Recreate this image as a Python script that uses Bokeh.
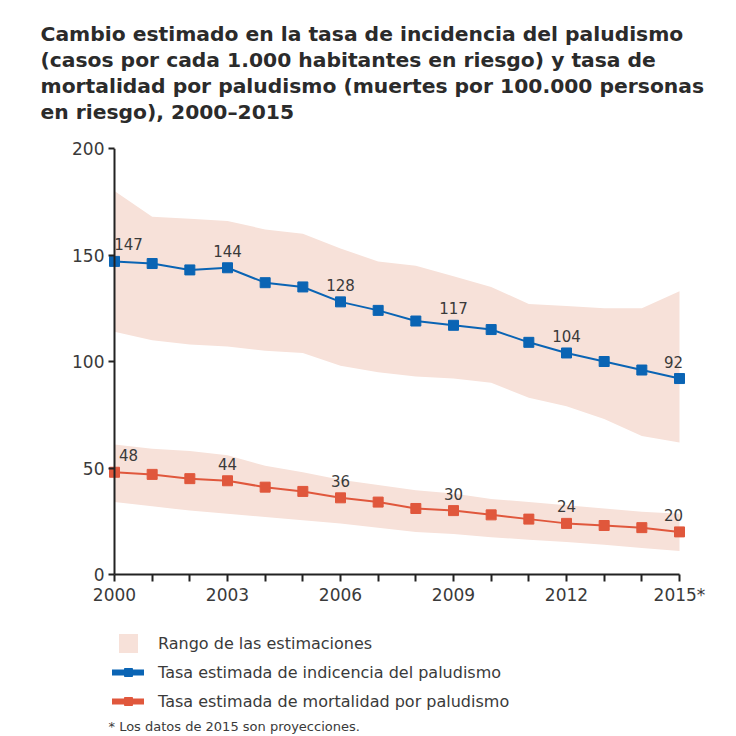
from bokeh.plotting import figure
from bokeh.layouts import column
from bokeh.models import (ColumnDataSource, FixedTicker, Legend, LegendItem,
                          Label, Range1d, Span)
from bokeh.embed import file_html
from bokeh.resources import INLINE
from bokeh.core.properties import value

# ---- data ----
years = list(range(2000, 2016))
incidence = [147, 146, 143, 144, 137, 135, 128, 124, 119, 117, 115, 109, 104, 100, 96, 92]
incidence_low = [114, 110, 108, 107, 105, 104, 98, 95, 93, 92, 90, 83, 79, 73, 65, 62]
incidence_high = [180, 168, 167, 166, 162, 160, 153, 147, 145, 140, 135, 127, 126, 125, 125, 133]
mortality = [48, 47, 45, 44, 41, 39, 36, 34, 31, 30, 28, 26, 24, 23, 22, 20]
mortality_low = [34, 32, 30, 28.5, 27, 25.5, 24, 22, 20, 19, 17.5, 16.3, 15.2, 14, 12.5, 11]
mortality_high = [61, 59, 58, 56, 51, 48, 44.5, 42, 39.5, 38, 35.5, 34, 32.5, 31, 29.5, 28.5]
labeled_years = [2000, 2003, 2006, 2009, 2012, 2015]
x_tick_labels = {2000: "2000", 2003: "2003", 2006: "2006", 2009: "2009",
                 2012: "2012", 2015: "2015*"}
y_ticks = [0, 50, 100, 150, 200]

title_lines = [
    "Cambio estimado en la tasa de incidencia del paludismo",
    "(casos por cada 1.000 habitantes en riesgo) y tasa de",
    "mortalidad por paludismo (muertes por 100.000 personas",
    "en riesgo), 2000–2015",
]
legend_labels = ["Rango de las estimaciones",
                 "Tasa estimada de indicencia del paludismo",
                 "Tasa estimada de mortalidad por paludismo"]
footnote = "* Los datos de 2015 son proyecciones."

# ---- styles / layout ----
BLUE = "#0a64b4"
RED = "#e0573c"
BAND = "#f7e1d9"
TXT = "#3a3a3a"
AXIS = "#222222"
FONT = "DejaVu Sans"
W = 728
TITLE_H, MAIN_H, LEG_H = 138, 470, 126
FRAME_L, FRAME_R, FRAME_T, FRAME_B = 108, 43, 10, 34
TICK = 6
frame_w = W - FRAME_L - FRAME_R
px_per_year = (frame_w - 2 * TICK) / (years[-1] - years[0])
pad = TICK / px_per_year


def blank_fig(h):
    f = figure(width=W, height=h, output_backend="svg", toolbar_location=None,
               x_range=Range1d(0, W), y_range=Range1d(h, 0),
               x_axis_type=None, y_axis_type=None, min_border=0,
               frame_align=False)
    f.outline_line_color = None
    f.grid.visible = False
    return f


# ---- title ----
tf = blank_fig(TITLE_H)
for i, line in enumerate(title_lines):
    tf.add_layout(Label(x=40, y=33 + 26.3 * i, text=line, text_font=FONT,
                        text_font_size="20.3px", text_font_style="bold",
                        text_color="#2b2b2b", text_baseline="middle",
                        text_align="left"))

# ---- main chart ----
src = ColumnDataSource(dict(year=years, inc=incidence, inc_lo=incidence_low,
                            inc_hi=incidence_high, mor=mortality,
                            mor_lo=mortality_low, mor_hi=mortality_high))

p = figure(width=W, height=MAIN_H, output_backend="svg", toolbar_location=None,
           x_range=Range1d(years[0] - pad, years[-1] + pad),
           y_range=Range1d(y_ticks[0], y_ticks[-1]),
           min_border_left=FRAME_L, min_border_right=FRAME_R,
           min_border_top=FRAME_T, min_border_bottom=FRAME_B,
           frame_align=False)
p.outline_line_color = None
p.xgrid.visible = False
p.ygrid.visible = False

p.varea(x="year", y1="inc_lo", y2="inc_hi", source=src, fill_color=BAND)
p.varea(x="year", y1="mor_lo", y2="mor_hi", source=src, fill_color=BAND)

p.line(x="year", y="inc", source=src, line_color=BLUE, line_width=2)
p.scatter(x="year", y="inc", source=src, marker="square", size=10,
          fill_color=BLUE, line_color=BLUE)
p.line(x="year", y="mor", source=src, line_color=RED, line_width=2)
p.scatter(x="year", y="mor", source=src, marker="square", size=10,
          fill_color=RED, line_color=RED)

# y axis line at the first year
p.add_layout(Span(location=years[0], dimension="height", line_color=AXIS,
                  line_width=2))

# value labels
idx = [years.index(y) for y in labeled_years]
xoff = [14 if y == years[0] else (-6 if y == years[-1] else 0) for y in labeled_years]
lab_src = ColumnDataSource(dict(
    x=labeled_years + labeled_years,
    y=[incidence[i] for i in idx] + [mortality[i] for i in idx],
    t=[str(incidence[i]) for i in idx] + [str(mortality[i]) for i in idx],
    xo=xoff + xoff))
p.text(x="x", y="y", text="t", source=lab_src, x_offset="xo", y_offset=-11,
       text_align="center", text_baseline="bottom", text_font=value(FONT),
       text_font_size="15px", text_color=TXT)

# axes
for ax in (p.xaxis[0], p.yaxis[0]):
    ax.axis_line_color = AXIS
    ax.axis_line_width = 2
    ax.major_tick_line_color = AXIS
    ax.major_tick_line_width = 2
    ax.minor_tick_line_color = None
    ax.major_label_text_font = FONT
    ax.major_label_text_font_size = "17px"
    ax.major_label_text_color = TXT
p.xaxis.ticker = FixedTicker(ticks=years)
p.xaxis.major_label_overrides = {y: x_tick_labels.get(y, "") for y in years}
p.xaxis.bounds = (years[0], years[-1])
p.xaxis.major_tick_in = 0
p.xaxis.major_tick_out = 7
p.xaxis.major_label_standoff = 3
p.yaxis.ticker = FixedTicker(ticks=y_ticks)
p.yaxis.axis_line_color = None
p.yaxis.major_tick_in = TICK
p.yaxis.major_tick_out = 0
p.yaxis.major_label_standoff = 4

# ---- legend + footnote ----
lf = blank_fig(LEG_H)
nan = float("nan")
dummy = ColumnDataSource(dict(x=[nan], y=[nan]))
r_band = lf.scatter(x="x", y="y", source=dummy, marker="square", size=8,
                    fill_color=BAND, line_color=BAND, line_width=11,
                    line_join="miter")
r_bl = lf.line(x="x", y="y", source=dummy, line_color=BLUE, line_width=6,
               line_cap="round")
r_bs = lf.scatter(x="x", y="y", source=dummy, marker="square", size=8,
                  fill_color=BLUE, line_color=BLUE)
r_rl = lf.line(x="x", y="y", source=dummy, line_color=RED, line_width=6,
               line_cap="round")
r_rs = lf.scatter(x="x", y="y", source=dummy, marker="square", size=8,
                  fill_color=RED, line_color=RED)
legend = Legend(items=[LegendItem(label=legend_labels[0], renderers=[r_band]),
                       LegendItem(label=legend_labels[1], renderers=[r_bl, r_bs]),
                       LegendItem(label=legend_labels[2], renderers=[r_rl, r_rs])],
                location=(112, LEG_H - 103), orientation="vertical",
                border_line_color=None,
                background_fill_alpha=0, glyph_width=32, glyph_height=20,
                label_text_font=FONT, label_text_font_size="16px",
                label_text_color=TXT, spacing=9, padding=0, margin=0,
                label_standoff=14)
lf.add_layout(legend, "center")
lf.add_layout(Label(x=108, y=118, text=footnote, text_font=FONT,
                    text_font_size="13px", text_color=TXT,
                    text_baseline="middle", text_align="left"))

layout = column(tf, p, lf, spacing=0)
open("out.html", "w").write(file_html(layout, INLINE))
